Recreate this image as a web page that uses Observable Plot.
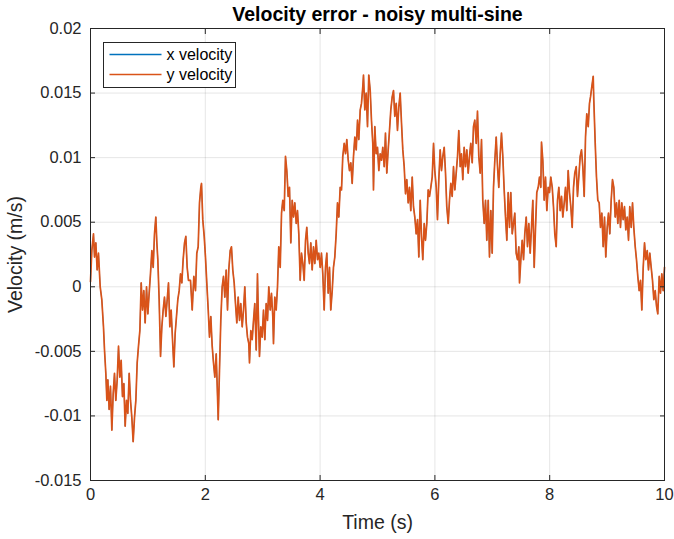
<!DOCTYPE html>
<html>
<head>
<meta charset="utf-8">
<script src="https://cdn.jsdelivr.net/npm/d3@7"></script>
<script src="https://cdn.jsdelivr.net/npm/@observablehq/plot@0.6"></script>
<style>
  html, body { margin: 0; padding: 0; background: #fff; }
  #wrap { position: relative; width: 674px; height: 539px; font-family: "Liberation Sans", Arial, sans-serif; }
</style>
</head>
<body>
<div id="wrap"></div>
<script>
// ---- data ----
const titleText = "Velocity error - noisy multi-sine";
const xLabel = "Time (s)";
const yLabel = "Velocity (m/s)";
const seriesNames = ["x velocity", "y velocity"];
const seriesColors = ["#0072BD", "#D95319"];
const xTicks = [0, 2, 4, 6, 8, 10];
const yTicks = [-0.015, -0.01, -0.005, 0, 0.005, 0.01, 0.015, 0.02];
const yTickLabels = ["-0.015", "-0.01", "-0.005", "0", "0.005", "0.01", "0.015", "0.02"];

const time = [
0.000,0.023,0.052,0.070,0.093,0.116,0.139,0.169,0.197,0.226,0.244,0.267,0.285,0.302,0.325,0.348,0.372,0.395,0.418,0.441,
0.465,0.488,0.511,0.534,0.557,0.581,0.604,0.627,0.650,0.674,0.697,0.720,0.743,0.767,0.790,0.813,0.836,0.860,0.883,0.906,
0.929,0.952,0.976,0.999,1.022,1.045,1.069,1.092,1.115,1.138,1.156,1.173,1.196,1.220,1.243,1.266,1.289,1.313,1.336,1.359,
1.382,1.405,1.429,1.452,1.475,1.498,1.521,1.545,1.568,1.591,1.614,1.638,1.661,1.684,1.707,
1.742,1.772,1.800,1.829,1.852,1.876,1.899,1.922,1.934,1.956,1.981,2.003,2.026,2.051,2.073,2.096,2.120,2.143,2.166,2.190,
2.213,2.225,2.247,2.270,2.294,2.317,2.340,2.364,2.387,2.409,2.434,2.456,2.479,2.503,2.526,2.549,2.573,2.596,2.618,2.643,
2.666,2.688,2.713,2.735,2.758,2.770,2.793,2.817,2.840,2.862,2.887,2.909,2.922,2.944,2.967,2.991,3.014,3.037,3.061,3.084,
3.106,3.131,3.153,3.176,3.188,3.211,3.235,3.258,3.280,3.305,3.328,3.350,3.375,
3.397,3.420,3.444,3.467,3.490,3.514,3.537,3.559,3.584,3.606,3.629,3.653,3.676,3.699,3.723,3.746,3.768,3.793,3.815,3.838,
3.862,3.885,3.908,3.932,3.955,3.977,4.002,4.024,4.047,4.071,4.094,4.117,4.141,4.164,4.186,4.211,4.233,4.256,4.280,4.303,
4.326,4.350,4.373,4.395,4.420,4.443,4.465,4.490,4.512,4.535,4.559,4.582,4.605,4.629,4.652,4.674,4.699,4.721,4.744,4.756,
4.779,4.803,4.826,4.848,4.873,4.895,4.918,4.930,4.953,4.977,5.000,5.023,5.047,5.070,5.092,5.117,
5.139,5.162,5.186,5.209,5.232,5.256,5.279,5.301,5.326,5.348,5.371,5.395,5.418,5.441,5.465,5.488,5.510,5.535,5.557,5.580,
5.605,5.627,5.650,5.674,5.697,5.720,5.744,5.767,5.789,5.814,5.836,5.859,5.883,5.906,5.929,5.953,5.976,5.998,6.023,6.045,
6.068,6.092,6.115,6.138,6.162,6.185,6.207,6.232,6.254,6.277,6.301,6.324,6.347,6.371,6.394,6.416,6.441,6.463,6.486,6.510,
6.533,6.556,6.580,6.603,6.625,6.650,6.672,6.695,6.720,6.742,6.765,6.789,6.812,6.834,6.859,
6.882,6.904,6.929,6.951,6.974,6.998,7.021,7.044,7.068,7.091,7.113,7.138,7.160,7.183,7.207,7.230,7.253,7.277,7.300,7.322,
7.347,7.369,7.392,7.416,7.439,7.462,7.474,7.497,7.521,7.544,7.566,7.591,7.613,7.636,7.660,7.683,7.706,7.730,7.753,7.775,
7.800,7.822,7.845,7.857,7.880,7.904,7.927,7.950,7.974,7.997,8.019,8.044,8.066,8.089,8.113,8.136,8.159,8.183,8.206,8.228,
8.253,8.275,8.298,8.322,8.345,8.368,8.392,8.415,8.437,8.462,8.484,8.507,8.531,8.554,8.577,8.601,8.624,8.646,8.671,8.693,
8.711,8.734,8.758,8.768,8.793,8.815,8.838,8.862,8.885,8.908,8.932,8.955,8.977,9.002,9.024,9.047,9.071,9.094,9.117,9.141,
9.164,9.187,9.211,9.233,9.256,9.280,9.303,9.326,9.350,9.373,9.395,9.420,9.443,9.465,9.490,9.512,9.535,9.559,9.582,9.605,
9.629,9.652,9.674,9.699,9.721,9.744,9.768,9.791,9.814,9.838,9.861,9.883,9.908,9.930,9.953,9.977,10.000
];

const yVelocity = [
0.0004,0.0028,0.0041,0.0023,0.0034,0.0013,0.0026,0.0000,-0.0010,-0.0031,-0.0049,-0.0067,-0.0088,-0.0072,-0.0095,-0.0077,-0.0111,-0.0083,-0.0067,-0.0088,
-0.0072,-0.0046,-0.0070,-0.0057,-0.0085,-0.0075,-0.0108,-0.0088,-0.0098,-0.0067,-0.0088,-0.0101,-0.0120,-0.0101,-0.0088,-0.0059,-0.0046,-0.0034,0.0003,-0.0018,
-0.0003,-0.0028,0.0000,-0.0021,-0.0005,0.0010,0.0028,0.0015,0.0041,0.0054,0.0034,0.0021,-0.0010,-0.0054,-0.0031,-0.0018,-0.0008,-0.0023,-0.0010,0.0003,
-0.0031,-0.0018,-0.0041,-0.0062,-0.0036,-0.0023,-0.0010,-0.0003,0.0010,0.0003,0.0021,0.0034,0.0039,0.0015,0.0005,
0.0005,-0.0018,0.0008,-0.0003,0.0026,0.0031,0.0065,0.0077,0.0080,0.0052,0.0039,0.0023,0.0003,-0.0018,-0.0039,-0.0023,-0.0046,-0.0059,-0.0070,-0.0052,
-0.0085,-0.0103,-0.0065,-0.0026,0.0000,0.0008,-0.0008,0.0013,-0.0018,0.0013,0.0028,0.0031,0.0013,0.0003,-0.0013,-0.0028,-0.0008,-0.0026,-0.0013,-0.0031,
-0.0018,0.0000,-0.0028,-0.0039,-0.0044,-0.0059,-0.0034,-0.0041,-0.0026,-0.0013,-0.0049,0.0010,-0.0018,-0.0054,-0.0031,-0.0039,-0.0018,-0.0041,-0.0013,-0.0026,
0.0000,-0.0018,-0.0005,-0.0023,-0.0044,-0.0008,-0.0018,0.0000,0.0031,0.0015,0.0057,0.0067,0.0059,
0.0101,0.0090,0.0070,0.0077,0.0034,0.0067,0.0054,0.0065,0.0049,0.0059,0.0041,0.0005,0.0026,0.0018,0.0005,0.0036,0.0046,0.0026,0.0018,0.0034,
0.0013,0.0031,0.0018,0.0036,0.0021,0.0026,0.0015,0.0026,0.0010,-0.0018,0.0015,0.0026,-0.0005,0.0015,-0.0018,-0.0003,0.0015,0.0023,0.0041,0.0065,
0.0054,0.0077,0.0075,0.0101,0.0111,0.0103,0.0114,0.0098,0.0090,0.0096,0.0080,0.0101,0.0116,0.0106,0.0129,0.0114,0.0137,0.0142,0.0155,0.0164,
0.0137,0.0150,0.0124,0.0164,0.0152,0.0129,0.0111,0.0075,0.0124,0.0103,0.0108,0.0090,0.0103,0.0098,0.0108,0.0093,
0.0119,0.0088,0.0106,0.0121,0.0137,0.0147,0.0152,0.0132,0.0142,0.0121,0.0139,0.0150,0.0127,0.0106,0.0093,0.0072,0.0083,0.0065,0.0077,0.0059,
0.0085,0.0062,0.0054,0.0041,0.0052,0.0023,0.0067,0.0039,0.0021,0.0049,0.0036,0.0049,0.0075,0.0070,0.0077,0.0085,0.0111,0.0090,0.0077,0.0052,
0.0083,0.0106,0.0090,0.0101,0.0108,0.0088,0.0062,0.0049,0.0067,0.0080,0.0070,0.0093,0.0075,0.0088,0.0101,0.0121,0.0093,0.0103,0.0083,0.0108,
0.0093,0.0106,0.0088,0.0101,0.0111,0.0096,0.0124,0.0129,0.0111,0.0136,0.0101,0.0088,0.0114,0.0067,0.0049,
0.0067,0.0036,0.0067,0.0023,0.0059,0.0026,0.0077,0.0098,0.0116,0.0093,0.0077,0.0103,0.0119,0.0101,0.0075,0.0054,0.0036,0.0073,0.0046,0.0073,
0.0041,0.0049,0.0057,0.0026,0.0021,0.0031,0.0003,0.0021,0.0036,0.0021,0.0041,0.0054,0.0031,0.0049,0.0026,0.0046,0.0067,0.0015,0.0046,0.0073,
0.0077,0.0085,0.0077,0.0112,0.0098,0.0067,0.0085,0.0059,0.0077,0.0073,0.0085,0.0077,0.0062,0.0041,0.0031,0.0067,0.0077,0.0059,0.0070,0.0054,
0.0065,0.0077,0.0059,0.0090,0.0073,0.0062,0.0046,0.0077,0.0088,0.0093,0.0070,0.0085,0.0101,0.0106,0.0093,0.0070,0.0116,0.0134,0.0124,0.0142,
0.0147,0.0155,0.0163,0.0145,0.0111,0.0085,0.0067,0.0065,0.0046,0.0057,0.0031,0.0054,0.0023,0.0046,0.0057,0.0041,0.0067,0.0083,0.0077,0.0054,
0.0065,0.0049,0.0067,0.0046,0.0065,0.0052,0.0062,0.0044,0.0054,0.0036,0.0062,0.0046,0.0065,0.0046,0.0031,0.0021,0.0008,-0.0003,0.0005,-0.0018,
0.0015,0.0034,0.0021,0.0028,0.0013,0.0026,0.0015,0.0005,-0.0010,-0.0003,-0.0015,-0.0021,0.0008,-0.0005,0.0010,-0.0003,0.0015
];
// x velocity overlaps y velocity everywhere in the picture
const xVelocity = yVelocity;

// ---- build tables ----
const xRows = xVelocity.map((v, i) => ({series: seriesNames[0], t: time[i], v}));
const yRows = yVelocity.map((v, i) => ({series: seriesNames[1], t: time[i], v}));
const labelOf = new Map(yTicks.map((t, i) => [t, yTickLabels[i]]));

const font = "Liberation Sans, Arial, sans-serif";
const ink = "#262626";

const chart = Plot.plot({
  width: 674,
  height: 539,
  marginLeft: 90,
  marginRight: 10,
  marginTop: 28,
  marginBottom: 59,
  style: {fontFamily: font, fontSize: "16px", color: ink, background: "#fff", overflow: "visible"},
  x: {domain: [0, 10], ticks: xTicks},
  y: {domain: [-0.015, 0.02], ticks: yTicks},
  color: {domain: seriesNames, range: seriesColors},
  marks: [
    Plot.gridX(xTicks, {stroke: "#000", strokeOpacity: 0.1, strokeWidth: 1}),
    Plot.gridY(yTicks, {stroke: "#000", strokeOpacity: 0.1, strokeWidth: 1}),
    Plot.line(xRows, {x: "t", y: "v", stroke: "series", strokeWidth: 0.7}),
    Plot.line(yRows, {x: "t", y: "v", stroke: "series", strokeWidth: 1.7}),
    // inward ticks on all four sides
    Plot.axisX(xTicks, {anchor: "bottom", tickSize: -5, tickFormat: () => "", label: null, stroke: ink}),
    Plot.axisX(xTicks, {anchor: "top", tickSize: -5, tickFormat: () => "", label: null, stroke: ink}),
    Plot.axisY(yTicks, {anchor: "left", tickSize: -5, tickFormat: () => "", label: null, stroke: ink}),
    Plot.axisY(yTicks, {anchor: "right", tickSize: -5, tickFormat: () => "", label: null, stroke: ink}),
    // tick labels
    Plot.axisX(xTicks, {anchor: "bottom", tickSize: 0, tickPadding: 8, label: null, fill: ink, fontSize: 16.5}),
    Plot.axisY(yTicks, {anchor: "left", tickSize: 0, tickPadding: 9, label: null, fill: ink, fontSize: 16.5,
                        tickFormat: d => labelOf.get(d)}),
    Plot.frame({stroke: ink, strokeWidth: 1}),
    Plot.text([xLabel], {text: d => d, frameAnchor: "bottom", lineAnchor: "middle", textAnchor: "middle", dy: 42, fontSize: 19.5, fill: ink}),
    Plot.text([yLabel], {text: d => d, frameAnchor: "left", lineAnchor: "middle", textAnchor: "middle", dx: -75, rotate: -90, fontSize: 19.5, fill: ink}),
    Plot.text([titleText], {text: d => d, frameAnchor: "top", lineAnchor: "middle", textAnchor: "middle", dy: -14, fontSize: 19.5, fontWeight: "bold", fill: "#000"})
  ]
});

document.getElementById("wrap").appendChild(chart);

// legend drawn into the chart's SVG, inside the plot area
const svg = d3.select(chart);
const lg = svg.append("g").attr("transform", "translate(103.5,42.5)")
  .attr("text-anchor", "start")
  .style("font-family", font).style("font-size", "16px");
lg.append("rect").attr("width", 132).attr("height", 45)
  .attr("fill", "#fff").attr("stroke", ink).attr("stroke-width", 1);
seriesNames.forEach((name, i) => {
  const yy = 12 + i * 20;
  lg.append("line").attr("x1", 6).attr("x2", 58).attr("y1", yy).attr("y2", yy)
    .attr("stroke", seriesColors[i]).attr("stroke-width", 1.3);
  lg.append("text").attr("x", 63).attr("y", yy).attr("dy", "0.35em")
    .attr("text-anchor", "start").attr("fill", "#000").text(name);
});
</script>
</body>
</html>
